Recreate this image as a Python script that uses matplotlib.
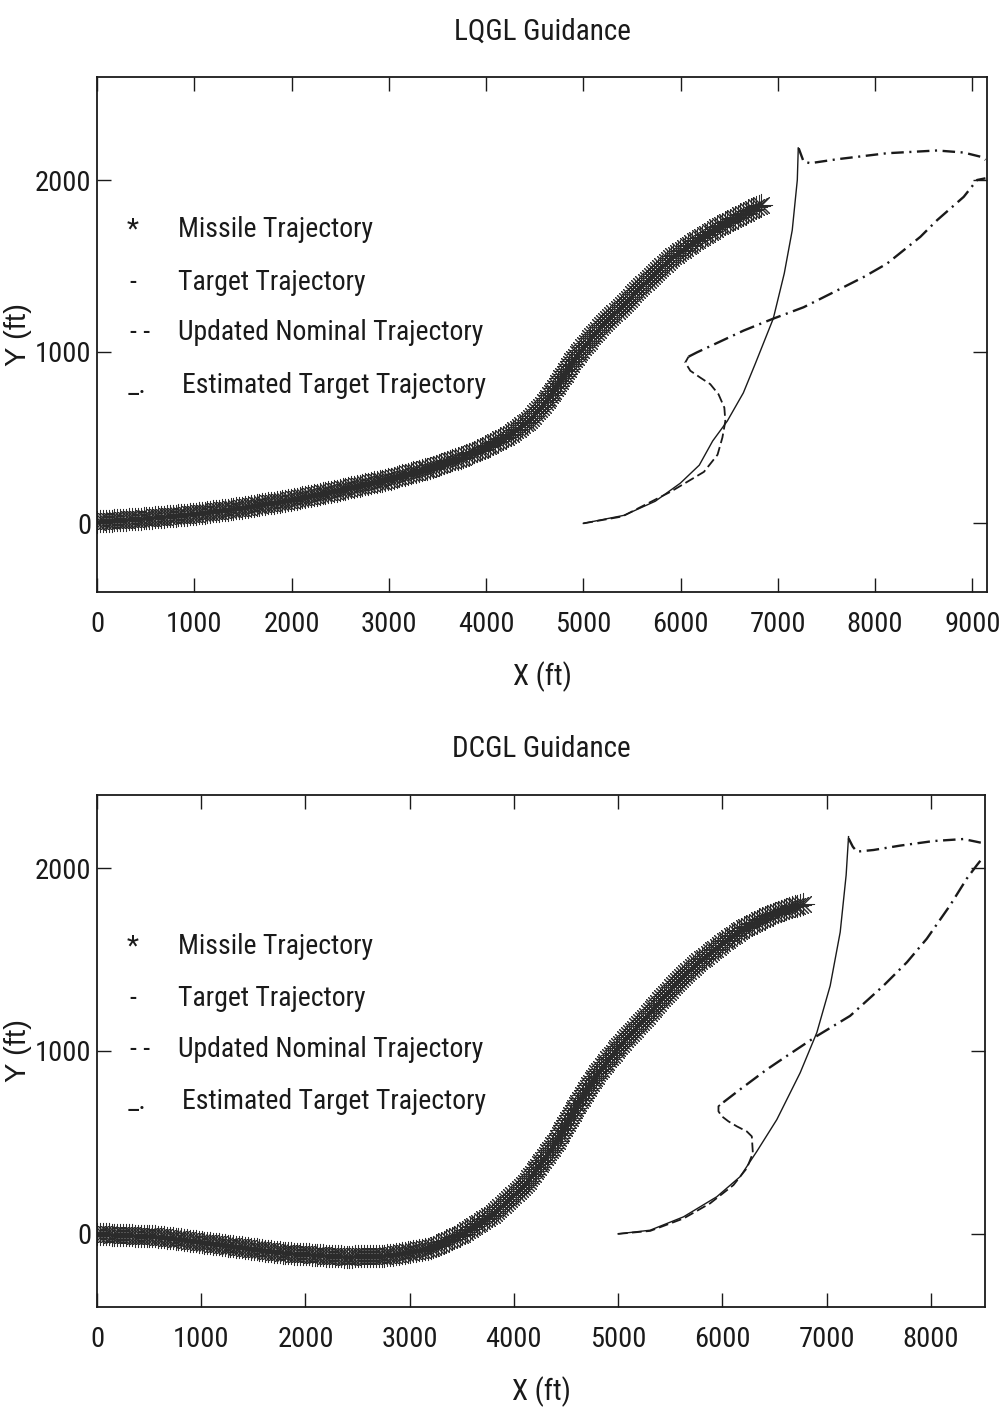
import numpy as np
import matplotlib
matplotlib.use("Agg")
import matplotlib.pyplot as plt
from matplotlib import font_manager as fm
from matplotlib.patheffects import AbstractPathEffect
from matplotlib.markers import MarkerStyle
from matplotlib.path import Path
from matplotlib.transforms import Affine2D, IdentityTransform

# ---------------- data (ft) ----------------
x_ticks_lqgl = [0, 1000, 2000, 3000, 4000, 5000, 6000, 7000, 8000, 9000]
x_ticks_dcgl = [0, 1000, 2000, 3000, 4000, 5000, 6000, 7000, 8000]
y_ticks = [0, 1000, 2000]

# LQGL guidance
lq_missile_x = [0, 500, 1000, 1500, 2000, 2500, 3000, 3400, 3750, 4000, 4250, 4450,
                4600, 4760, 4870, 5000, 5200, 5400, 5550, 5700, 5900, 6100, 6250,
                6400, 6600, 6840]
lq_missile_y = [10, 30, 55, 92, 138, 195, 258, 320, 385, 445, 520, 605,
                700, 830, 930, 1030, 1160, 1270, 1355, 1440, 1545, 1625, 1680,
                1732, 1790, 1860]
lq_target_x = [5000, 5420, 5740, 5997, 6192, 6330, 6480, 6645, 6768, 6953, 7066,
               7148, 7200, 7210]
lq_target_y = [0, 47, 129, 234, 339, 480, 596, 760, 930, 1193, 1456, 1708, 2000, 2187]
lq_nominal_x = [5000, 5400, 5900, 6240, 6380, 6430, 6460, 6450, 6390, 6305, 6200,
                6100, 6048, 6082]
lq_nominal_y = [0, 40, 185, 300, 400, 500, 596, 674, 752, 811, 850, 889, 937, 971]
lq_est_x = [6082, 6168, 6648, 6946, 7265, 7540, 7882, 8122, 8465, 8637, 8911, 9048, 9134]
lq_est_y = [971, 996, 1123, 1191, 1259, 1337, 1435, 1513, 1669, 1766, 1902, 2000, 2010]
lq_est_top_x = [7214, 7265, 7334, 7608, 8122, 8637, 8911, 9082, 9134]
lq_est_top_y = [2185, 2107, 2098, 2121, 2156, 2172, 2160, 2136, 2117]

# DCGL guidance
dc_missile_x = [0, 600, 1200, 1800, 2400, 2800, 3200, 3500, 3800, 4100, 4400, 4600,
                4800, 5000, 5300, 5600, 5800, 6000, 6200, 6500, 6800]
dc_missile_y = [0, -15, -60, -105, -125, -118, -80, 0, 110, 265, 500, 700,
                880, 1020, 1210, 1400, 1500, 1590, 1670, 1755, 1810]
dc_target_x = [5000, 5307, 5627, 5947, 6171, 6331, 6523, 6747, 6907, 7035, 7131, 7188, 7211]
dc_target_y = [0, 20, 93, 203, 313, 451, 625, 881, 1101, 1357, 1650, 1962, 2172]
dc_nominal_x = [5000, 5307, 5627, 5883, 6107, 6235, 6293, 6283, 6235, 6139, 6059,
                5995, 5963, 5963, 6011]
dc_nominal_y = [0, 16, 84, 167, 267, 359, 441, 533, 560, 588, 615, 643, 670, 698, 720]
dc_est_x = [6011, 6171, 6427, 6619, 6907, 7226, 7546, 7771, 7962, 8186, 8346, 8442, 8506]
dc_est_y = [720, 790, 899, 973, 1082, 1192, 1357, 1485, 1614, 1797, 1943, 2016, 2062]
dc_est_top_x = [7211, 7252, 7291, 7450, 7706, 8026, 8314, 8506]
dc_est_top_y = [2163, 2117, 2090, 2099, 2123, 2148, 2159, 2136]

legend_symbols = ["*", "-", "- -", "_."]
legend_labels = ["Missile Trajectory", "Target Trajectory",
                 "Updated Nominal Trajectory", "Estimated Target Trajectory"]

# ---------------- fonts & style ----------------
_available = {f.name for f in fm.fontManager.ttflist}
NARROW = next((f for f in ["Nimbus Sans Narrow", "Liberation Sans Narrow",
                           "Roboto Condensed", "Archivo Narrow", "Barlow Semi Condensed"]
               if f in _available), "DejaVu Sans")
REGULAR = next((f for f in ["Nimbus Sans", "Liberation Sans", "Arimo"]
                if f in _available), "DejaVu Sans")
plt.rcParams["font.family"] = [NARROW, "DejaVu Sans"]
plt.rcParams["lines.scale_dashes"] = False
INK = "#1a1a1a"


class AsteriskTrail(AbstractPathEffect):
    """Stamp asterisk markers at a fixed on-screen spacing along a path."""

    def __init__(self, spacing=2.1, size=16.0, lw=0.75, color="#2b2b2b"):
        super().__init__()
        self.spacing = spacing
        self.size = size
        self.lw = lw
        self.color = color

    def draw_path(self, renderer, gc, tpath, affine, rgbFace=None):
        verts = affine.transform(tpath.vertices)
        verts = verts[np.isfinite(verts).all(axis=1)]
        seg = np.hypot(*np.diff(verts, axis=0).T)
        s = np.concatenate([[0.0], np.cumsum(seg)])
        step = renderer.points_to_pixels(self.spacing)
        t = np.arange(0.0, s[-1] + 1e-6, step)
        pts = np.column_stack([np.interp(t, s, verts[:, 0]),
                               np.interp(t, s, verts[:, 1])])
        ms = MarkerStyle((8, 2, 0))
        mtrans = ms.get_transform() + Affine2D().scale(renderer.points_to_pixels(self.size))
        gc0 = renderer.new_gc()
        gc0.copy_properties(gc)
        gc0.set_foreground(self.color)
        gc0.set_linewidth(self.lw)
        gc0.set_dashes(0, None)
        renderer.draw_markers(gc0, ms.get_path(), mtrans, Path(pts), IdentityTransform())
        gc0.restore()


def draw_panel(ax, title, xmax, ymax, xticks, missile, target, nominal, est, est_top):
    ax.plot(*missile, color="#2b2b2b", lw=1.0, path_effects=[AsteriskTrail()])
    ax.plot(*target, color=INK, lw=1.0)
    ax.plot(*nominal, color=INK, lw=1.3, linestyle=(0, (7, 3)))
    ax.plot(*est, color=INK, lw=1.7, linestyle=(0, (11, 4, 1.5, 4)))
    ax.plot(*est_top, color=INK, lw=1.7, linestyle=(0, (9, 4, 1.5, 4)))

    ax.set_xlim(0, xmax)
    ax.set_ylim(-400, ymax)
    ax.set_xticks(xticks)
    ax.set_yticks(y_ticks)
    ax.tick_params(direction="in", length=10, width=1.0, top=True, right=True,
                   labelsize=20.5, colors=INK)
    ax.tick_params(axis="x", pad=14)
    ax.tick_params(axis="y", pad=4)
    for sp in ax.spines.values():
        sp.set_linewidth(1.3)
        sp.set_color(INK)

    ax.set_title(title, fontsize=21, pad=27, color=INK)
    ax.set_xlabel("X (ft)", fontsize=21, color=INK)
    ax.xaxis.set_label_coords(0.5, -0.135)
    ax.xaxis.label.set_va("top")
    ax.set_ylabel("Y (ft)", fontsize=21, color=INK, family=[REGULAR, "DejaVu Sans"])
    ax.yaxis.set_label_coords(-0.073, 0.5)

    sym_x = [0.040, 0.040, 0.048, 0.045]
    lab_x = [0.091, 0.091, 0.091, 0.096]
    base_y = [0.689, 0.587, 0.489, 0.387]
    for sx, lx, by, sym, lab in zip(sym_x, lab_x, base_y, legend_symbols, legend_labels):
        ax.text(sx, by, sym, transform=ax.transAxes, ha="center", va="baseline",
                fontsize=20, color=INK)
        ax.text(lx, by, lab, transform=ax.transAxes, ha="left", va="baseline",
                fontsize=20, color=INK)


fig = plt.figure(figsize=(10.02, 14.13), dpi=100)
ax1 = fig.add_axes([0.0968, 0.581, 0.8882, 0.3645])
ax2 = fig.add_axes([0.0968, 0.075, 0.8862, 0.3624])

draw_panel(ax1, "LQGL Guidance", 9150, 2600, x_ticks_lqgl,
           (lq_missile_x, lq_missile_y), (lq_target_x, lq_target_y),
           (lq_nominal_x, lq_nominal_y), (lq_est_x, lq_est_y),
           (lq_est_top_x, lq_est_top_y))
draw_panel(ax2, "DCGL Guidance", 8520, 2400, x_ticks_dcgl,
           (dc_missile_x, dc_missile_y), (dc_target_x, dc_target_y),
           (dc_nominal_x, dc_nominal_y), (dc_est_x, dc_est_y),
           (dc_est_top_x, dc_est_top_y))

fig.savefig("out.png", dpi=100, facecolor="white")
